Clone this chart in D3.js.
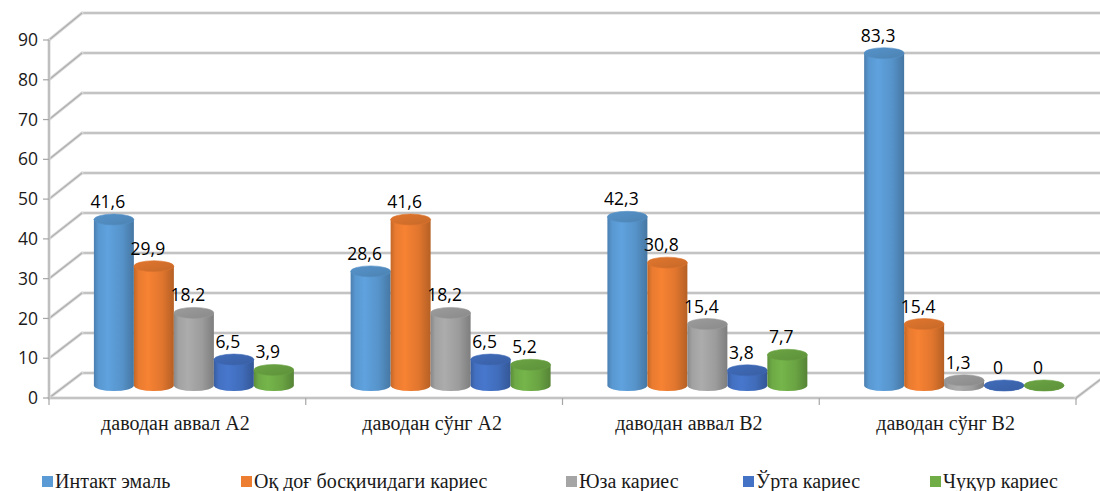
<!DOCTYPE html>
<html>
<head>
<meta charset="utf-8">
<script src="https://cdn.jsdelivr.net/npm/d3@7/dist/d3.min.js"></script>
<style>
  html, body { margin: 0; padding: 0; background: #fff; }
  svg { display: block; }
  .serif { font-family: "Liberation Serif", "Times New Roman", Tinos, "DejaVu Serif", serif; }
  .sans { font-family: "Open Sans", "Noto Sans", sans-serif; }
</style>
</head>
<body>
<svg id="chart" width="1100" height="491"></svg>
<script>
// Categories (x groups), series names and values
const categories = ["даводан аввал А2", "даводан сўнг А2", "даводан аввал В2", "даводан сўнг В2"];
const seriesNames = ["Интакт эмаль", "Оқ доғ босқичидаги кариес", "Юза кариес", "Ўрта кариес", "Чуқур кариес"];
const seriesColors = ["#5B9BD5", "#ED7D31", "#A5A5A5", "#4472C4", "#70AD47"];
const intactEnamel = [41.6, 28.6, 42.3, 83.3];
const whiteSpotStage = [29.9, 41.6, 30.8, 15.4];
const superficialCaries = [18.2, 18.2, 15.4, 1.3];
const mediumCaries = [6.5, 6.5, 3.8, 0];
const deepCaries = [3.9, 5.2, 7.7, 0];
const yTicks = [0, 10, 20, 30, 40, 50, 60, 70, 80, 90];

const seriesValues = [intactEnamel, whiteSpotStage, superficialCaries, mediumCaries, deepCaries];

const svg = d3.select("#chart");
const defs = svg.append("defs");

// 3D box geometry: front plane, back wall offset, bars in the middle depth
const left = 49, right = 1076;
const depthX = 33;
const yFront = d3.scaleLinear().domain([0, 90]).range([398, 40]);
const yBack = d3.scaleLinear().domain([0, 90]).range([373, 13]);
const yMid = d3.scaleLinear().domain([0, 90]).range([385.5, 26.5]);
const midX = depthX / 2;

const x0 = d3.scaleBand().domain(categories).range([left, right]).paddingInner(0).paddingOuter(0);
const x1 = d3.scaleBand().domain(d3.range(seriesNames.length)).range([0, x0.bandwidth()]).paddingInner(0).paddingOuter(0.71);

// Gridlines drawn with a soft double stroke
function softLine(g, x1p, y1p, x2p, y2p) {
  g.append("line").attr("x1", x1p).attr("y1", y1p).attr("x2", x2p).attr("y2", y2p)
    .attr("stroke", "#D9D9D9").attr("stroke-width", 3).attr("stroke-linecap", "round");
  g.append("line").attr("x1", x1p).attr("y1", y1p).attr("x2", x2p).attr("y2", y2p)
    .attr("stroke", "#ADADAD").attr("stroke-width", 1.2);
}

const grid = svg.append("g");
yTicks.forEach(v => {
  softLine(grid, left + depthX, yBack(v), 1100 + 10, yBack(v));
  softLine(grid, left, yFront(v), left + depthX, yBack(v));
});

// Floor front edge and right edge
const axisG = svg.append("g");
softLine(axisG, left, yFront(0), right, yFront(0));
softLine(axisG, right, yFront(0), right + depthX, yBack(0));
// Value axis line
softLine(axisG, left, yFront(0), left, yFront(90));

// Category separators on the front edge
x0.domain().forEach(c => {
  axisG.append("line").attr("x1", x0(c)).attr("x2", x0(c))
    .attr("y1", yFront(0)).attr("y2", yFront(0) + 7)
    .attr("stroke", "#A6A6A6").attr("stroke-width", 1.2);
});
axisG.append("line").attr("x1", right).attr("x2", right)
  .attr("y1", yFront(0)).attr("y2", yFront(0) + 7)
  .attr("stroke", "#A6A6A6").attr("stroke-width", 1.2);

// Value axis ticks and labels
yTicks.forEach(v => {
  axisG.append("line").attr("x1", left - 6).attr("x2", left)
    .attr("y1", yFront(v)).attr("y2", yFront(v))
    .attr("stroke", "#A6A6A6").attr("stroke-width", 1.2);
  axisG.append("text").attr("class", "sans").attr("x", left - 11).attr("y", yFront(v))
    .attr("dy", "0.35em").attr("text-anchor", "end")
    .attr("font-size", 17.5)
    .attr("fill", "#1a1a1a").text(v);
});

// Category labels
categories.forEach(c => {
  svg.append("text").attr("class", "serif").attr("x", x0(c) + x0.bandwidth() / 2 - 2).attr("y", 430)
    .attr("text-anchor", "middle")
    .attr("font-size", 20)
    .attr("fill", "#1a1a1a").text(c);
});

// Cylinder gradients
seriesColors.forEach((col, i) => {
  const base = d3.color(col);
  const g = defs.append("linearGradient").attr("id", "cyl" + i).attr("x1", 0).attr("x2", 1).attr("y1", 0).attr("y2", 0);
  g.append("stop").attr("offset", "0%").attr("stop-color", base.darker(0.55));
  g.append("stop").attr("offset", "12%").attr("stop-color", base.darker(0.05));
  g.append("stop").attr("offset", "35%").attr("stop-color", base.brighter(0.12));
  g.append("stop").attr("offset", "70%").attr("stop-color", base.darker(0.15));
  g.append("stop").attr("offset", "100%").attr("stop-color", base.darker(0.75));
  const t = defs.append("linearGradient").attr("id", "top" + i).attr("x1", 0).attr("x2", 1).attr("y1", 0).attr("y2", 1);
  t.append("stop").attr("offset", "0%").attr("stop-color", base.darker(0.15));
  t.append("stop").attr("offset", "100%").attr("stop-color", base.darker(0.5));
});

// Bars as cylinders, drawn left to right
const ry = 5.5;
const bars = svg.append("g");
categories.forEach((c, ci) => {
  seriesValues.forEach((vals, si) => {
    const v = vals[ci];
    const xl = x0(c) + midX + x1(si);
    const w = x1.bandwidth();
    const rx = w / 2;
    const cx = xl + rx;
    const yb = yMid(0);
    const yt = yMid(v);
    const g = bars.append("g");
    g.append("path")
      .attr("d", `M${xl},${yt} L${xl},${yb} A${rx},${ry} 0 0 0 ${xl + w},${yb} L${xl + w},${yt} Z`)
      .attr("fill", `url(#cyl${si})`);
    g.append("ellipse").attr("cx", cx).attr("cy", yt).attr("rx", rx).attr("ry", ry)
      .attr("fill", `url(#top${si})`)
      .attr("stroke", d3.color(seriesColors[si]).darker(0.2)).attr("stroke-width", 0.6);
    // Data label
    svg.append("text").attr("class", "sans").attr("x", cx - 6).attr("y", yt - ry - 6)
      .attr("text-anchor", "middle")
      .attr("font-size", 17.5)
      .attr("fill", "#000").text(String(v).replace(".", ","));
  });
});

// Legend
const legendX = [42, 241, 566, 743, 930];
seriesNames.forEach((n, i) => {
  svg.append("rect").attr("x", legendX[i]).attr("y", 476).attr("width", 11).attr("height", 11)
    .attr("fill", seriesColors[i]);
  svg.append("text").attr("class", "serif").attr("x", legendX[i] + 13).attr("y", 488)
    .attr("font-size", 20)
    .attr("fill", "#1a1a1a").text(n);
});
</script>
</body>
</html>
